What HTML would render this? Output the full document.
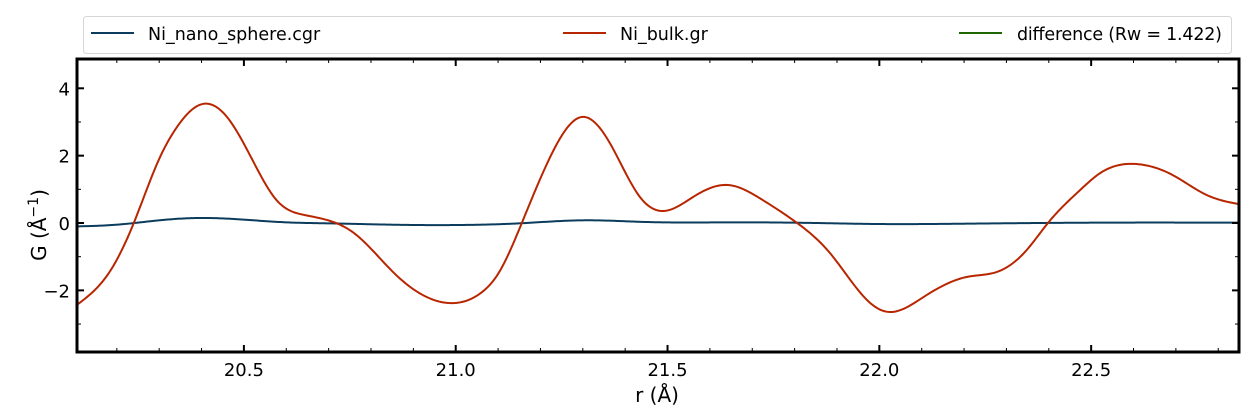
<!DOCTYPE html>
<html><head><meta charset="utf-8"><style>
html,body{margin:0;padding:0;background:#fff;width:1251px;height:415px;overflow:hidden}
svg text{font-family:"DejaVu Sans","Liberation Sans",sans-serif;fill:#000}
</style></head><body>
<svg id="chart" width="1251" height="415" viewBox="0 0 1251 415" xmlns="http://www.w3.org/2000/svg">
<g id="legend">
<rect x="83.5" y="16.5" width="1148" height="37" rx="3" fill="#fff" stroke="#d6d6d6"/>
<g><line x1="91" y1="33" x2="134" y2="33" stroke="#0b3c5d" stroke-width="2"/><text x="148" y="40" font-size="17.5">Ni_nano_sphere.cgr</text></g>
<g><line x1="563" y1="33" x2="606" y2="33" stroke="#b82601" stroke-width="2"/><text x="620" y="40" font-size="17.5">Ni_bulk.gr</text></g>
<g><line x1="959" y1="33" x2="1002" y2="33" stroke="#1d6600" stroke-width="2"/><text x="1017" y="40" font-size="17.5" textLength="205">difference (Rw = 1.422)</text></g>
</g>
<g id="plot"></g>
<text x="657" y="402" font-size="20" text-anchor="middle">r (Å)</text>
<text transform="translate(46,225) rotate(-90)" font-size="20" text-anchor="middle">G (Å<tspan dy="-8" font-size="14">−1</tspan><tspan dy="8">)</tspan></text>
</svg>
<script>
const xTicks=[20.5,21.0,21.5,22.0,22.5];
const xTickLabels=["20.5","21.0","21.5","22.0","22.5"];
const yTicks=[-2,0,2,4];
const yTickLabels=["−2","0","2","4"];
const bulkR=[20.106,20.183,20.240,20.301,20.342,20.401,20.460,20.524,20.577,20.642,20.704,20.760,20.854,20.932,21.003,21.067,21.098,21.156,21.223,21.298,21.364,21.435,21.494,21.560,21.641,21.725,21.806,21.884,21.978,22.021,22.104,22.207,22.278,22.348,22.398,22.474,22.521,22.608,22.693,22.773,22.849];
const bulkG=[-2.43,-1.45,0,1.93,2.85,3.53,3.15,1.78,0.68,0.24,0.06,-0.30,-1.48,-2.2,-2.37,-2.0,-1.55,0,1.96,3.15,2.37,0.77,0.36,0.77,1.13,0.68,0,-0.9,-2.37,-2.64,-2.2,-1.6,-1.45,-0.8,0,0.98,1.48,1.75,1.42,0.83,0.56];
const nanoR=[20.106,20.2,20.3,20.4,20.5,20.6,20.7,20.85,21.0,21.15,21.3,21.45,21.65,21.85,22.0,22.2,22.5,22.849];
const nanoG=[-0.1,-0.05,0.08,0.15,0.1,0.02,-0.01,-0.05,-0.06,-0.01,0.08,0.03,0.02,0.0,-0.03,-0.02,0.01,0.01];
const X0=77,X1=1239,Y0=59,Y1=352,xmin=20.106,xmax=22.849,ymin=-3.83,ymax=4.87;
const sx=v=>X0+(v-xmin)/(xmax-xmin)*(X1-X0);
const sy=v=>Y1-(v-ymin)/(ymax-ymin)*(Y1-Y0);
const NS='http://www.w3.org/2000/svg';
const plot=document.getElementById('plot');
function mk(t,a){const e=document.createElementNS(NS,t);for(const k in a)e.setAttribute(k,a[k]);plot.appendChild(e);return e;}
function spline(xs,ys){const n=xs.length,h=[],al=[],l=[1],mu=[0],z=[0],c=new Array(n).fill(0);
for(let i=0;i<n-1;i++)h[i]=xs[i+1]-xs[i];
for(let i=1;i<n-1;i++)al[i]=3/h[i]*(ys[i+1]-ys[i])-3/h[i-1]*(ys[i]-ys[i-1]);
for(let i=1;i<n-1;i++){l[i]=2*(xs[i+1]-xs[i-1])-h[i-1]*mu[i-1];mu[i]=h[i]/l[i];z[i]=(al[i]-h[i-1]*z[i-1])/l[i];}
l[n-1]=1;z[n-1]=0;const b=[],d=[];
for(let j=n-2;j>=0;j--){c[j]=z[j]-mu[j]*c[j+1];b[j]=(ys[j+1]-ys[j])/h[j]-h[j]*(c[j+1]+2*c[j])/3;d[j]=(c[j+1]-c[j])/(3*h[j]);}
return x=>{let i=0;while(i<n-2&&x>xs[i+1])i++;const t=x-xs[i];return ys[i]+b[i]*t+c[i]*t*t+d[i]*t*t*t;};}
function path(R,G){const f=spline(R,G);let d='';const a=R[0],b=R[R.length-1];
for(let k=0;k<=600;k++){const x=a+(b-a)*k/600;d+=(k?'L':'M')+sx(x).toFixed(2)+','+sy(f(x)).toFixed(2);}return d;}
const nano=mk('path',{d:path(nanoR,nanoG),fill:'none',stroke:'#0b3c5d','stroke-width':2});


const bulk=mk('path',{d:path(bulkR,bulkG),fill:'none',stroke:'#b82601','stroke-width':2});


for(let v=20.2;v<22.85;v+=0.1){const x=sx(v);const major=xTicks.some(t=>Math.abs(t-v)<1e-6);const L=major?7:4;
mk('line',{x1:x,y1:Y1,x2:x,y2:Y1-L,stroke:'#000','stroke-width':major?2:1});mk('line',{x1:x,y1:Y0,x2:x,y2:Y0+L,stroke:'#000','stroke-width':major?2:1});}
for(let v=-3;v<=4;v++){const y=sy(v);const major=yTicks.includes(v);const L=major?7:4;
mk('line',{x1:X0,y1:y,x2:X0+L,y2:y,stroke:'#000','stroke-width':major?2:1});mk('line',{x1:X1,y1:y,x2:X1-L,y2:y,stroke:'#000','stroke-width':major?2:1});}
xTicks.forEach((v,i)=>{const t=mk('text',{x:sx(v),y:376,'font-size':18,'text-anchor':'middle'});t.textContent=xTickLabels[i];

});
yTicks.forEach((v,i)=>{const t=mk('text',{x:70,y:sy(v)+7,'font-size':18,'text-anchor':'end'});t.textContent=yTickLabels[i];

});
const fr=mk('rect',{x:X0,y:Y0,width:X1-X0,height:Y1-Y0,fill:'none',stroke:'#000','stroke-width':3});


</script>
</body></html>
